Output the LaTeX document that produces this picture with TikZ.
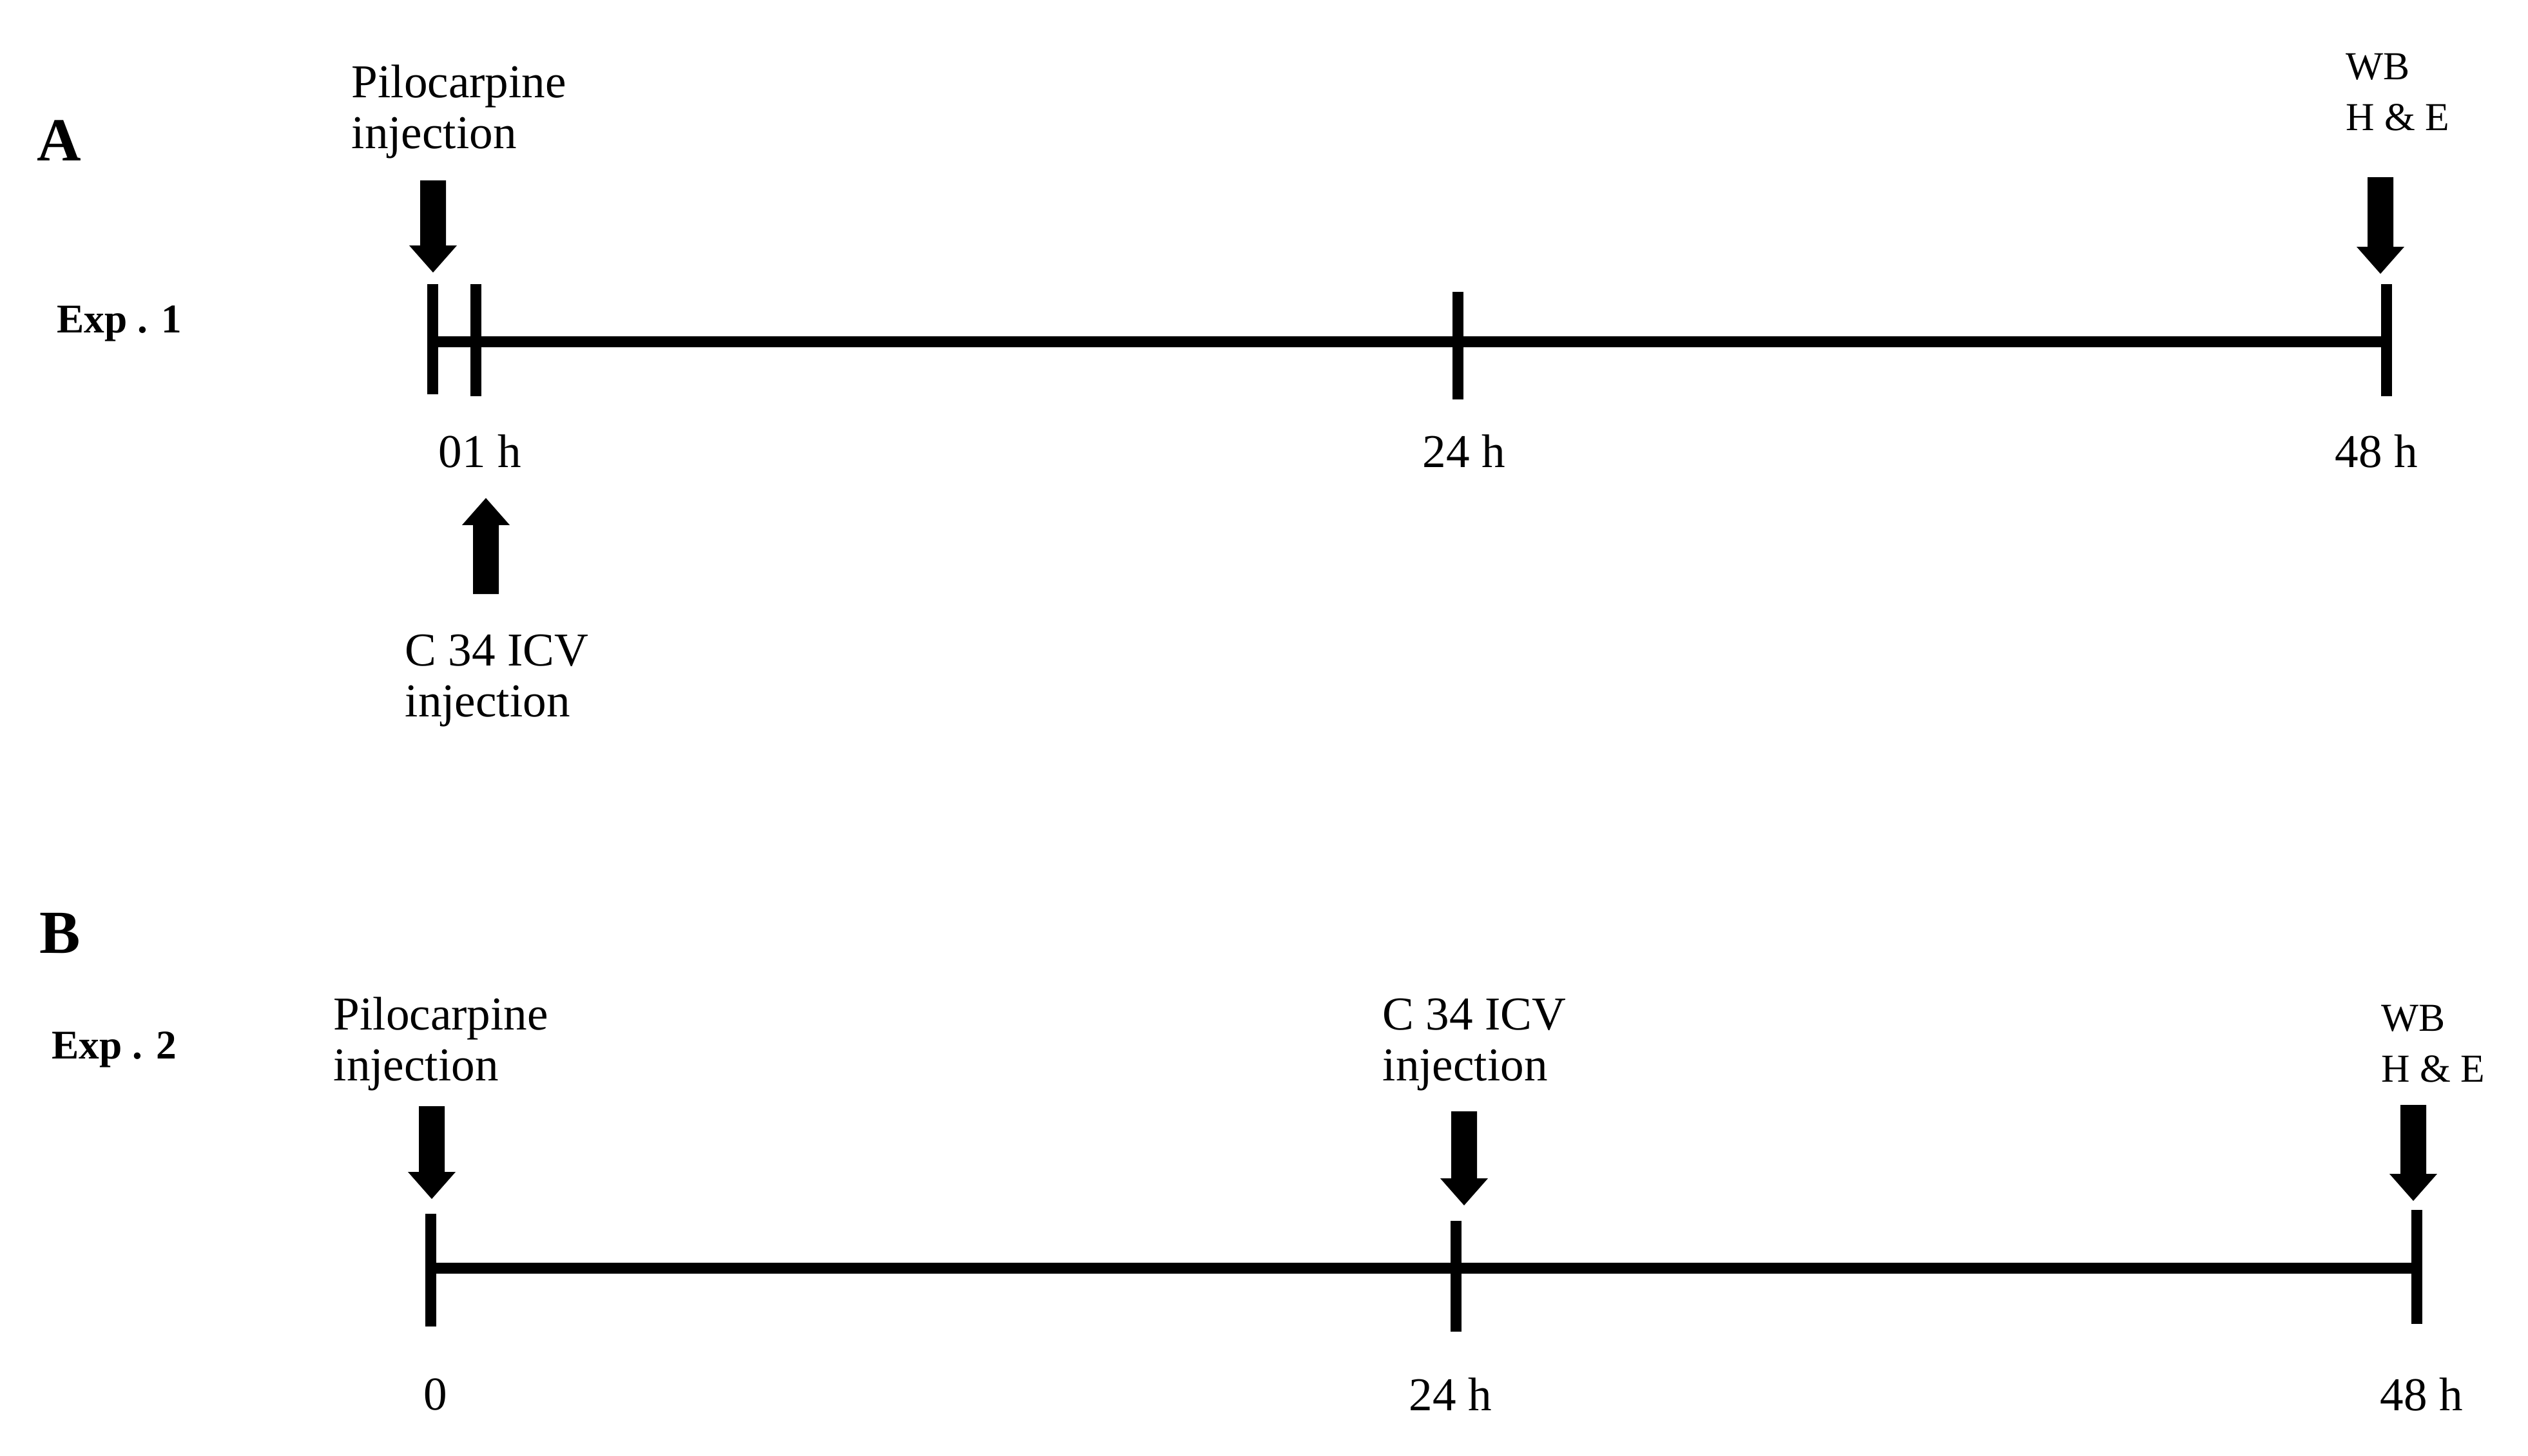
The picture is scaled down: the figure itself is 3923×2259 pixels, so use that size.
\documentclass[tikz,border=0pt]{standalone}
\usepackage{fontspec}
\setmainfont{Liberation Serif}
\newcommand\bdown[3]{% cx, ytop, ytip
  \fill[black] ({#1-20},#2) -- ({#1+20},#2) -- ({#1+20},{#3-42}) -- ({#1+37},{#3-42})
    -- (#1,#3) -- ({#1-37},{#3-42}) -- ({#1-20},{#3-42}) -- cycle;}
\newcommand\bup[3]{% cx, ybottom, ytip
  \fill[black] ({#1-20},#2) -- ({#1+20},#2) -- ({#1+20},{#3+42}) -- ({#1+37},{#3+42})
    -- (#1,#3) -- ({#1-37},{#3+42}) -- ({#1-20},{#3+42}) -- cycle;}
\begin{document}
\begin{tikzpicture}[x=0.01cm,y=-0.01cm,
  lbl/.style={inner sep=0pt, anchor=base west, font=\fontsize{20.8}{22.2}\selectfont, align=left},
  res/.style={inner sep=0pt, anchor=base west, font=\fontsize{17.5}{22.2}\selectfont, align=left},
  explbl/.style={inner sep=0pt, anchor=base west, font=\bfseries\fontsize{18}{20}\selectfont},
  panel/.style={inner sep=0pt, anchor=base west, font=\bfseries\fontsize{27}{30}\selectfont},
  axisline/.style={line width=0.17cm},
  tickline/.style={line width=0.17cm}]
\useasboundingbox (0,0) rectangle (3923,2259);

% ---------- Panel A ----------
\node[panel] (pA) at (57,249) {A};
\node[explbl] (e1) at (88,516) {Exp . 1};
\node[lbl] (pilA) at (545,230) {Pilocarpine\\injection};
\node[res] (resA) at (3640,202) {WB\\H \& E};
\node[lbl] (h1A) at (680,725) {01 h};
\node[lbl] (h24A) at (2207,725) {24 h};
\node[lbl] (h48A) at (3623,725) {48 h};
\node[lbl] (c34A) at (628,1112) {C 34 ICV\\injection};

\coordinate (a0) at (671,530);
\coordinate (a1) at (738,530);
\coordinate (a24) at (2262,530);
\coordinate (a48) at (3703,530);
\draw[axisline] (a0) -- (a48);
\draw[tickline] (671,441) -- (671,612);
\draw[tickline] (738,441) -- (738,615);
\draw[tickline] (2262,453) -- (2262,620);
\draw[tickline] (3703,441) -- (3703,615);

\bdown{672}{280}{423}
\bdown{3694}{275}{425}
\bup{754}{922}{773}

% ---------- Panel B ----------
\node[panel] (pB) at (61,1479) {B};
\node[explbl] (e2) at (80,1643) {Exp . 2};
\node[lbl] (pilB) at (517,1677) {Pilocarpine\\injection};
\node[lbl] (c34B) at (2145,1677) {C 34 ICV\\injection};
\node[res] (resB) at (3695,1679) {WB\\H \& E};
\node[lbl] (h0B) at (657,2188) {0};
\node[lbl] (h24B) at (2186,2189) {24 h};
\node[lbl] (h48B) at (3693,2189) {48 h};

\coordinate (b0) at (668,1968);
\coordinate (b24) at (2259,1968);
\coordinate (b48) at (3750,1968);
\draw[axisline] (b0) -- (b48);
\draw[tickline] (668,1884) -- (668,2059);
\draw[tickline] (2259,1895) -- (2259,2067);
\draw[tickline] (3750,1878) -- (3750,2055);

\bdown{670}{1717}{1861}
\bdown{2272}{1725}{1871}
\bdown{3745}{1715}{1864}
\end{tikzpicture}
\end{document}
